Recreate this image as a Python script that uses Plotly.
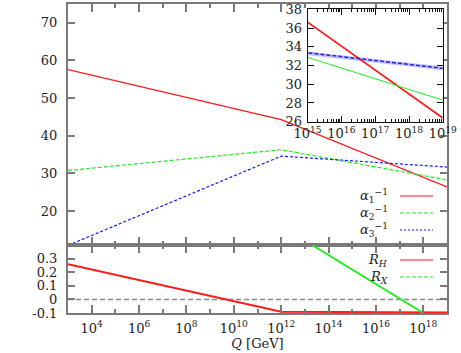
import plotly.graph_objects as go

# running couplings, knots at log10 Q = 3, 12, 19
Q = [1e3, 1e12, 1e19]
alpha1_inv = [57.6, 44.3, 26.4]
alpha2_inv = [30.8, 36.3, 28.3]
alpha3_inv = [10.9, 34.6, 31.7]

# alpha3 uncertainty band (inset)
Q_band = [1e15, 1e19]
alpha3_hi = [33.5, 31.9]
alpha3_lo = [33.1, 31.5]

# ratios in lower panel
R_H = [0.258, -0.09, -0.097]
Q_RX = [2e13, 1e18]
R_X = [0.40, -0.10]

# tick labels
main_exp = [4, 6, 8, 10, 12, 14, 16, 18]
inset_exp = [15, 16, 17, 18, 19]

RED = '#ff1a1a'
GREEN = '#22ee22'
BLUE = '#1a1aff'
FRAME = '#7a7a7a'
FONT = 'DejaVu Serif'

fig = go.Figure()

# main panel
fig.add_trace(go.Scatter(x=Q, y=alpha1_inv, mode='lines', line=dict(color=RED, width=1.2),
                         xaxis='x', yaxis='y'))
fig.add_trace(go.Scatter(x=Q, y=alpha2_inv, mode='lines',
                         line=dict(color=GREEN, width=1.2, dash='4px,2px'), xaxis='x', yaxis='y'))
fig.add_trace(go.Scatter(x=Q, y=alpha3_inv, mode='lines',
                         line=dict(color=BLUE, width=1.2, dash='3px,2px'), xaxis='x', yaxis='y'))

# lower panel
fig.add_trace(go.Scatter(x=Q, y=R_H, mode='lines', line=dict(color=RED, width=2),
                         xaxis='x2', yaxis='y2'))
fig.add_trace(go.Scatter(x=Q_RX, y=R_X, mode='lines', line=dict(color=GREEN, width=2),
                         xaxis='x2', yaxis='y2'))

# inset
fig.add_trace(go.Scatter(x=Q_band + Q_band[::-1], y=alpha3_hi + alpha3_lo[::-1], fill='toself',
                         fillcolor='rgba(120,120,255,0.45)', line=dict(width=0),
                         mode='lines', xaxis='x3', yaxis='y3'))
fig.add_trace(go.Scatter(x=Q, y=alpha1_inv, mode='lines', line=dict(color=RED, width=1.6),
                         xaxis='x3', yaxis='y3'))
fig.add_trace(go.Scatter(x=Q, y=alpha2_inv, mode='lines', line=dict(color=GREEN, width=1),
                         xaxis='x3', yaxis='y3'))
fig.add_trace(go.Scatter(x=Q, y=alpha3_inv, mode='lines',
                         line=dict(color='#2222dd', width=1.5, dash='4px,2px'),
                         xaxis='x3', yaxis='y3'))

main_vals = [10.0 ** k for k in main_exp]
main_text = ['10<sup>%d</sup>' % k for k in main_exp]
inset_vals = [10.0 ** k for k in inset_exp]
inset_text = ['10<sup>%d</sup>' % k for k in inset_exp]
minor_main = [10.0 ** k for k in range(3, 20, 2)]
minor_inset = [m * 10.0 ** k for k in range(15, 19) for m in range(2, 10)]

common = dict(ticks='inside', mirror='ticks', showline=True, linecolor=FRAME, linewidth=2,
              tickcolor=FRAME, tickwidth=1.5, showgrid=False, zeroline=False, automargin=False)

fig.update_layout(
    width=461, height=353,
    margin=dict(l=68, r=14, t=4, b=40),
    plot_bgcolor='white', paper_bgcolor='white',
    showlegend=False,
    font=dict(family=FONT, size=13, color='#222'),
    xaxis=dict(domain=[0, 1], anchor='y', type='log', range=[3, 19],
               tickmode='array', tickvals=main_vals, showticklabels=False, ticklen=8,
               minor=dict(tickvals=minor_main, ticks='inside', ticklen=4, tickcolor=FRAME), **common),
    yaxis=dict(domain=[0.22, 1], anchor='x', range=[11, 75], tickvals=[20, 30, 40, 50, 60, 70],
               ticklen=7, ticklabelstandoff=6, **common),
    xaxis2=dict(domain=[0, 1], anchor='y2', type='log', range=[3, 19],
                tickmode='array', tickvals=main_vals, ticktext=main_text, ticklen=8,
                ticklabelstandoff=2,
                minor=dict(tickvals=minor_main, ticks='inside', ticklen=4, tickcolor=FRAME),
                title=dict(text='<i>Q</i> [GeV]', standoff=2, font=dict(size=13)), **common),
    yaxis2=dict(domain=[0, 0.22], anchor='x2', range=[-0.1, 0.4],
                tickvals=[-0.1, 0, 0.1, 0.2, 0.3], ticktext=['-0.1', '0', '0.1', '0.2', '0.3'],
                ticklen=7, ticklabelstandoff=6, **common),
    xaxis3=dict(domain=[0.632, 0.989], anchor='y3', type='log', range=[15, 19],
                tickmode='array', tickvals=inset_vals, ticktext=inset_text,
                ticks='inside', mirror='ticks', showline=True, automargin=False,
                linecolor='#111', linewidth=1, ticklen=6, tickcolor='#111', showgrid=False,
                ticklabelstandoff=0,
                minor=dict(tickvals=minor_inset, ticks='inside', ticklen=3, tickcolor='#111')),
    yaxis3=dict(domain=[0.619, 0.983], anchor='x3', range=[26, 38], dtick=2, automargin=False,
                ticks='inside', mirror='ticks', showline=True, linecolor='#111', linewidth=1,
                ticklen=6, tickcolor='#111', showgrid=False, zeroline=False, ticklabelstandoff=2),
)

# zero reference line in lower panel
fig.add_shape(type='line', xref='x2 domain', yref='y2', x0=0, x1=1, y0=0, y1=0,
              line=dict(color='#888', width=1.5, dash='5px,3px'), layer='below')

# gnuplot-style keys: label on the left, line sample on the right
def px_x(p):
    return (p - 68) / 379

def px_y(p):
    return (313 - p) / 309

keys = [
    ('<i>α</i><sub>1</sub><sup>−1</sup>', RED, 'solid', 196),
    ('<i>α</i><sub>2</sub><sup>−1</sup>', GREEN, '4px,2px', 213),
    ('<i>α</i><sub>3</sub><sup>−1</sup>', BLUE, '2px,2px', 230),
    ('<i>R<sub>H</sub></i>', RED, 'solid', 260),
    ('<i>R<sub>X</sub></i>', GREEN, '4px,2px', 277),
]
for label, color, dash, ypx in keys:
    fig.add_annotation(text=label, xref='paper', yref='paper', x=px_x(390), y=px_y(ypx),
                       xanchor='right', yanchor='middle', showarrow=False, font=dict(size=13))
    fig.add_shape(type='line', xref='paper', yref='paper', x0=px_x(400), x1=px_x(433),
                  y0=px_y(ypx), y1=px_y(ypx), line=dict(color=color, width=1.2, dash=dash))

fig.write_html("out.html", config={'displayModeBar': False},
               post_script="document.body.style.margin='0';")
